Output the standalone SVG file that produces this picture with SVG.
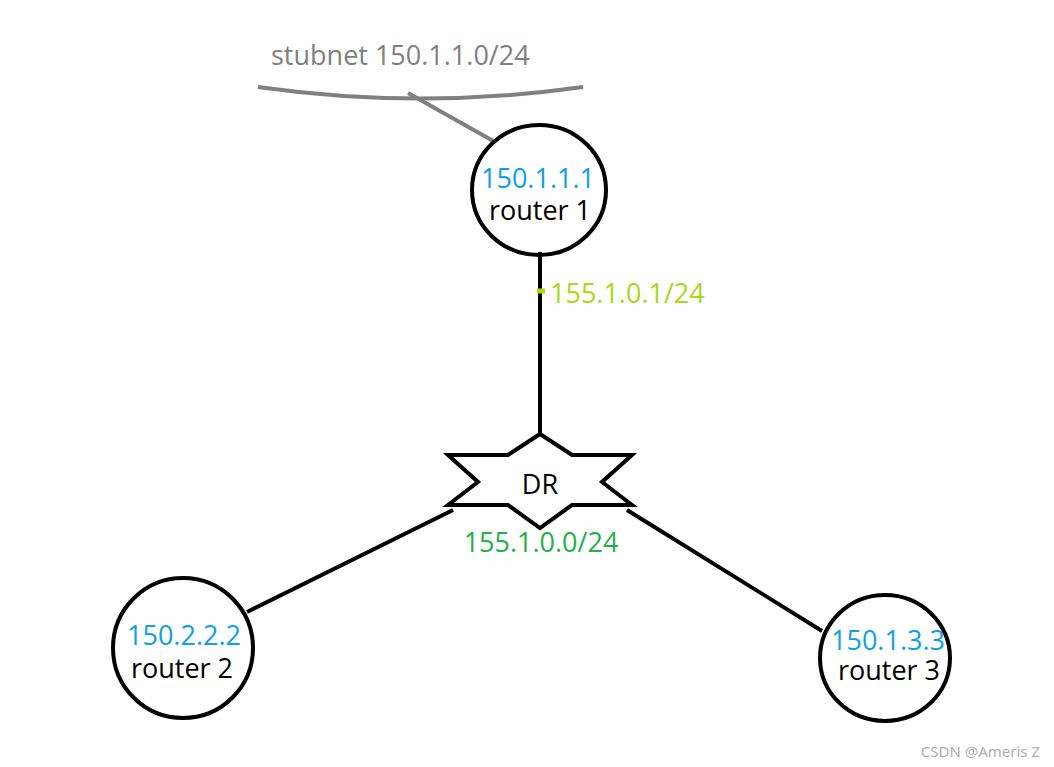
<svg xmlns="http://www.w3.org/2000/svg" width="1054" height="767" viewBox="0 0 1054 767">
<style>
.n{fill:none;stroke:#000;stroke-width:4}
.t{font-family:"Open Sans","Noto Sans",sans-serif;font-size:27px}
.ip{fill:#0ea0e8}
</style>
<rect width="1054" height="767" fill="#fff"/>
<g id="connectors">
<path d="M258 87 Q420 110 583 87" fill="none" stroke="#808080" stroke-width="4"/>
<line x1="408" y1="93" x2="495" y2="142" stroke="#808080" stroke-width="4"/>
<line x1="540" y1="252" x2="540" y2="434" stroke="#000" stroke-width="4"/>
<line x1="537" y1="291" x2="545" y2="291" stroke="#a8d818" stroke-width="5"/>
<line x1="247" y1="612" x2="453" y2="510" stroke="#000" stroke-width="4"/>
<line x1="627" y1="510" x2="822" y2="631" stroke="#000" stroke-width="4"/>
</g>
<g id="stubnet"><text class="t" x="271" y="65" fill="#808080">stubnet 150.1.1.0/24</text></g>
<g id="router1">
<ellipse class="n" cx="539" cy="190" rx="67" ry="65"/>
<text class="t ip" x="538" y="188" text-anchor="middle">150.1.1.1</text>
<text class="t" x="540" y="220" text-anchor="middle">router 1</text>
</g>
<text class="t" x="550" y="303" fill="#a8d818">155.1.0.1/24</text>
<g id="dr">
<polygon class="n" points="540,434 572,455 632,455 602,482 632,505 572,505 540,528 508,505 448,505 478,482 448,455 508,455"/>
<text class="t" x="540" y="494" text-anchor="middle">DR</text>
</g>
<text class="t" x="541" y="552" text-anchor="middle" fill="#22b04a">155.1.0.0/24</text>
<g id="router2">
<circle class="n" cx="183" cy="648" r="70"/>
<text class="t ip" x="184" y="645" text-anchor="middle">150.2.2.2</text>
<text class="t" x="182" y="678" text-anchor="middle">router 2</text>
</g>
<g id="router3">
<ellipse class="n" cx="885" cy="658" rx="65" ry="63"/>
<text class="t ip" x="888" y="650" text-anchor="middle">150.1.3.3</text>
<text class="t" x="889" y="680" text-anchor="middle">router 3</text>
</g>
<text x="1040" y="757" text-anchor="end" font-family="Noto Sans,sans-serif" font-size="15" fill="#b0b0b0">CSDN @Ameris Z</text>
</svg>
